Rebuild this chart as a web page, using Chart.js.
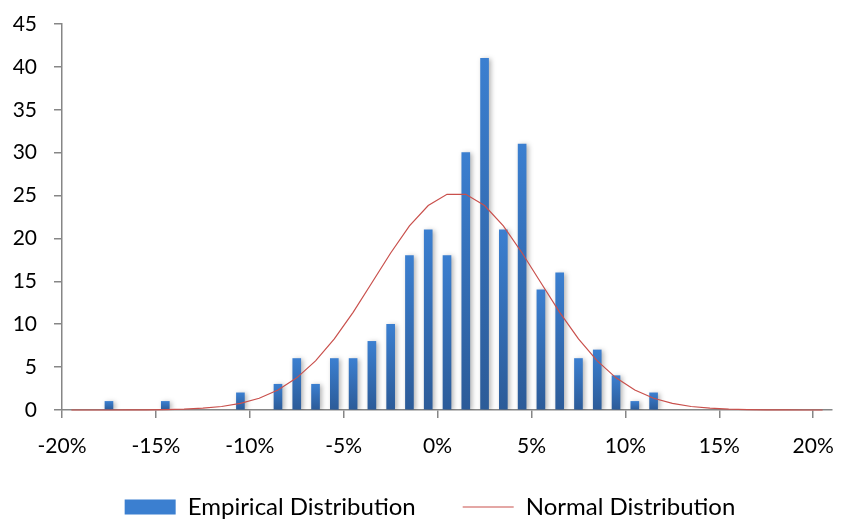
<!DOCTYPE html>
<html>
<head>
<meta charset="utf-8">
<script src="https://cdn.jsdelivr.net/npm/chart.js@4.4.1/dist/chart.umd.min.js"></script>
<style>
    html, body { margin: 0; padding: 0; background: #fff; }
    #wrap { width: 846px; height: 519px; }
</style>
</head>
<body>
<div id="wrap"><canvas id="chart" width="846" height="519"></canvas></div>
<script>
// Histogramme : centres des classes (en %) et effectifs
const binCenters = [-17.5, -14.5, -10.5, -8.5, -7.5, -6.5, -5.5, -4.5, -3.5, -2.5, -1.5, -0.5,
    0.5, 1.5, 2.5, 3.5, 4.5, 5.5, 6.5, 7.5, 8.5, 9.5, 10.5, 11.5];
const binCounts = [1, 1, 2, 3, 6, 3, 6, 6, 8, 10, 18, 21,
    18, 30, 41, 21, 31, 14, 16, 6, 7, 4, 1, 2];

// Courbe normale
const normalX = [-19.5, -18.5, -17.5, -16.5, -15.5, -14.5, -13.5, -12.5, -11.5, -10.5,
    -9.5, -8.5, -7.5, -6.5, -5.5, -4.5, -3.5, -2.5, -1.5, -0.5,
    0.5, 1.5, 2.5, 3.5, 4.5, 5.5, 6.5, 7.5, 8.5, 9.5,
    10.5, 11.5, 12.5, 13.5, 14.5, 15.5, 16.5, 17.5, 18.5, 19.5, 20.5];
const normalY = [0.00, 0.00, 0.00, 0.01, 0.02, 0.04, 0.10, 0.21, 0.41, 0.77,
    1.37, 2.33, 3.75, 5.73, 8.29, 11.39, 14.83, 18.30, 21.46, 23.84,
    25.14, 25.14, 23.84, 21.46, 18.30, 14.83, 11.39, 8.29, 5.73, 3.75,
    2.33, 1.37, 0.77, 0.41, 0.21, 0.10, 0.04, 0.02, 0.01, 0.00, 0.00];

// Graduations
const xTicks = [-20, -15, -10, -5, 0, 5, 10, 15, 20];
const yTicks = [0, 5, 10, 15, 20, 25, 30, 35, 40, 45];

const seriesNames = ["Empirical Distribution", "Normal Distribution"];

const axisColor = "#868686";
const barTop = "#3b7fd0";
const barBottom = "#2c5b98";
const lineColor = "#c9504c";

// Dégradé vertical propre à chaque barre
function barGradient(context) {
    const chart = context.chart;
    if (!chart.chartArea || context.type !== "data") {
        return barTop;
    }
    const yScale = chart.scales.y;
    const top = yScale.getPixelForValue(context.raw.y);
    const bottom = yScale.getPixelForValue(0);
    const g = chart.ctx.createLinearGradient(0, top, 0, bottom);
    g.addColorStop(0, barTop);
    g.addColorStop(1, barBottom);
    return g;
}

// Ombre portée sous les barres
const barShadow = {
    id: "barShadow",
    beforeDatasetDraw(chart, args) {
        if (args.index !== 0) return;
        const ctx = chart.ctx;
        ctx.save();
        ctx.shadowColor = "rgba(0, 0, 0, 0.3)";
        ctx.shadowBlur = 5;
        ctx.shadowOffsetX = 2;
        ctx.shadowOffsetY = 1;
    },
    afterDatasetDraw(chart, args) {
        if (args.index !== 0) return;
        chart.ctx.restore();
    }
};

// Légende remontée et décalée comme dans l'original
const legendPlace = {
    id: "legendPlace",
    afterLayout(chart) {
        const lg = chart.legend;
        lg.top -= 10;
        lg.left += 14;
        lg.right += 14;
    }
};

const tickFont = { family: "Lato", size: 21 };

new Chart(document.getElementById("chart"), {
    type: "bar",
    data: {
        datasets: [
            {
                type: "bar",
                label: seriesNames[0],
                data: binCenters.map((x, i) => ({ x: x, y: binCounts[i] })),
                backgroundColor: barGradient,
                borderWidth: 0,
                barThickness: 8,
                order: 2
            },
            {
                type: "line",
                label: seriesNames[1],
                data: normalX.map((x, i) => ({ x: x, y: normalY[i] })),
                borderColor: lineColor,
                backgroundColor: lineColor,
                borderWidth: 1.2,
                pointRadius: 0,
                tension: 0,
                fill: false,
                clip: false,
                order: 1
            }
        ]
    },
    options: {
        responsive: false,
        devicePixelRatio: 1,
        animation: false,
        layout: { padding: { left: 0, right: 14, top: 24, bottom: 0 } },
        plugins: {
            tooltip: { enabled: false },
            legend: {
                position: "bottom",
                maxHeight: 61,
                labels: {
                    usePointStyle: true,
                    pointStyleWidth: 51,
                    boxHeight: 15,
                    padding: 47,
                    color: "#000",
                    font: { family: "Lato", size: 24 },
                    generateLabels(chart) {
                        return chart.data.datasets.map((ds, i) => ({
                            text: ds.label,
                            datasetIndex: i,
                            fillStyle: i === 0 ? barTop : lineColor,
                            strokeStyle: i === 0 ? barTop : lineColor,
                            lineWidth: i === 0 ? 0 : 1.2,
                            pointStyle: i === 0 ? "rect" : "line",
                            fontColor: "#000"
                        }));
                    }
                }
            }
        },
        scales: {
            x: {
                type: "linear",
                min: -20,
                max: 21,
                offset: false,
                afterFit(scale) {
                    scale.height = 48;
                    scale.paddingLeft = 0;
                    scale.paddingRight = 0;
                },
                afterBuildTicks(scale) { scale.ticks = xTicks.map(v => ({ value: v })); },
                grid: { display: true, drawOnChartArea: false, drawTicks: true, tickLength: 8, color: axisColor, lineWidth: 1.5, offset: false },
                border: { display: true, color: axisColor, width: 1.5 },
                ticks: {
                    padding: 16,
                    color: "#000",
                    font: tickFont,
                    maxRotation: 0,
                    autoSkip: false,
                    callback: v => v + "%"
                }
            },
            y: {
                min: 0,
                max: 45,
                afterFit(scale) {
                    scale.width = 62;
                    scale.paddingTop = 0;
                    scale.paddingBottom = 0;
                },
                afterBuildTicks(scale) { scale.ticks = yTicks.map(v => ({ value: v })); },
                grid: { display: true, drawOnChartArea: false, drawTicks: true, tickLength: 8, color: axisColor, lineWidth: 1.5 },
                border: { display: true, color: axisColor, width: 1.5 },
                ticks: {
                    padding: 17,
                    color: "#000",
                    font: tickFont
                }
            }
        }
    },
    plugins: [barShadow, legendPlace]
});
</script>
</body>
</html>
